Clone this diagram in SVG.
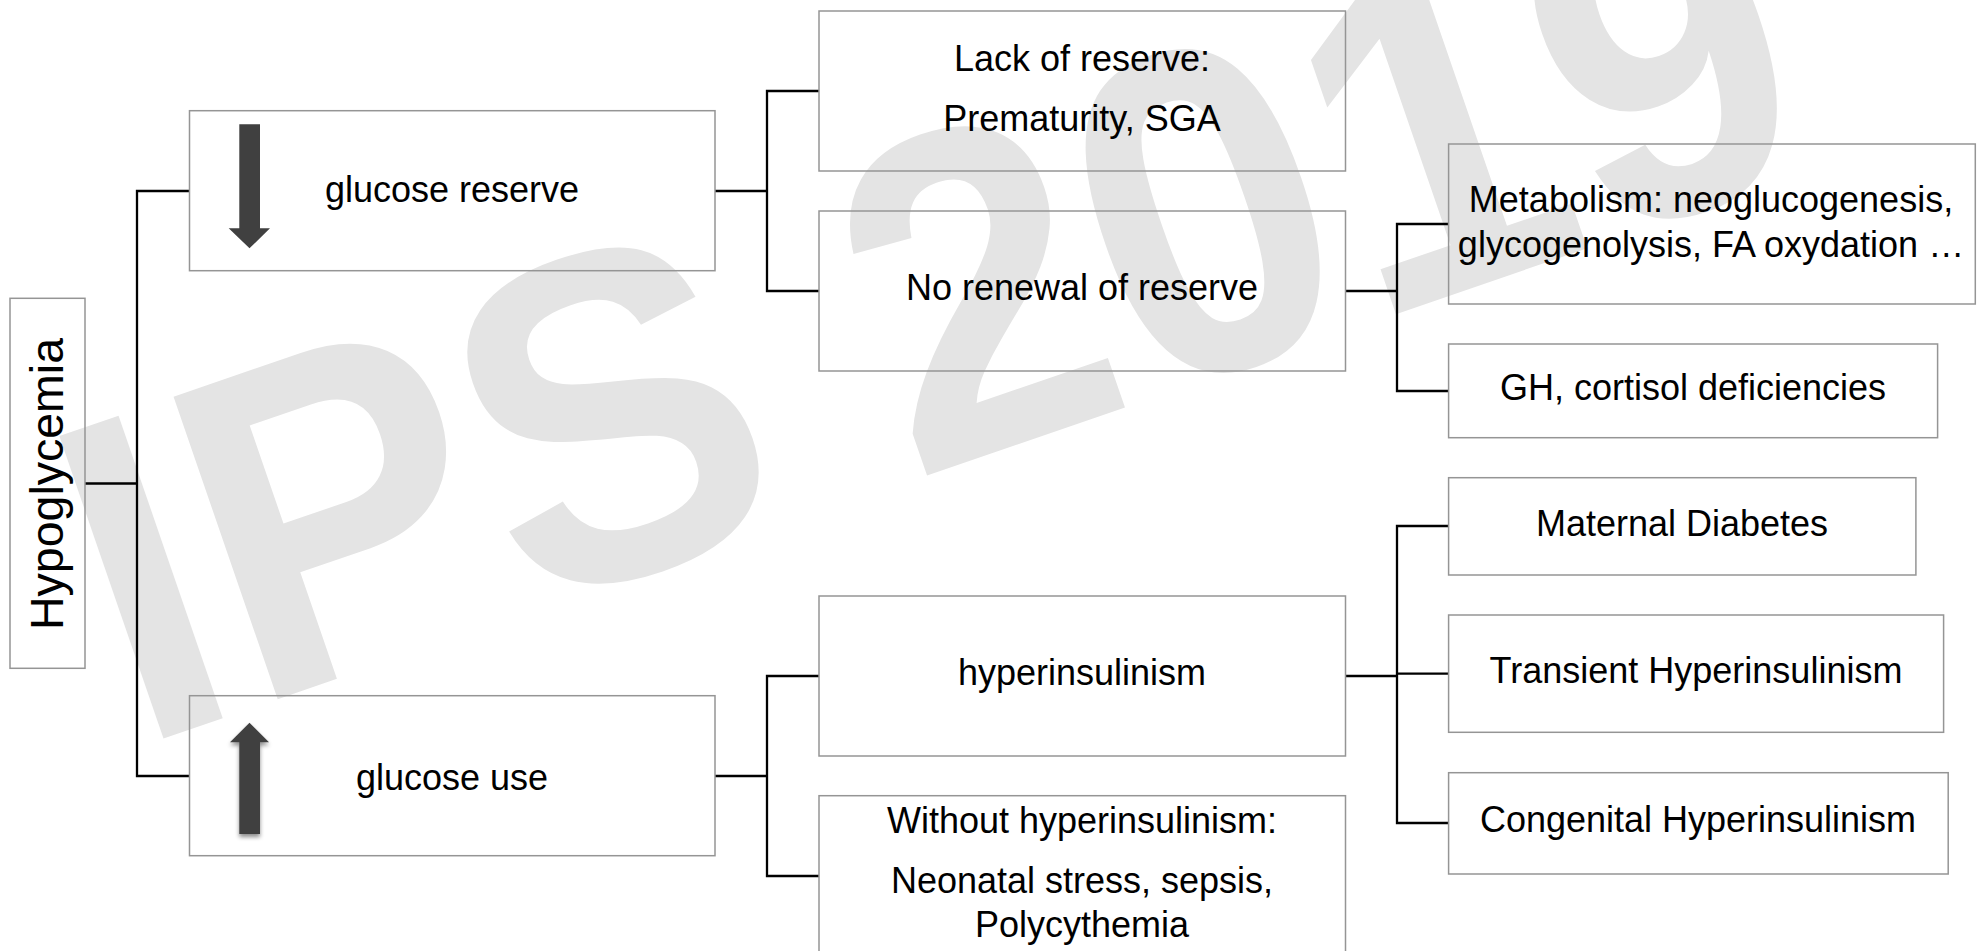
<svg xmlns="http://www.w3.org/2000/svg" width="1980" height="951" viewBox="0 0 1980 951">
<defs>
<style>
.bg{fill:#ffffff}
.wm{font-family:"Liberation Sans",Arial,sans-serif;font-weight:bold;font-size:465px;fill:#e4e4e4}
.box{fill:none;stroke:#959595;stroke-width:1.5}
.t{font-family:"Liberation Sans",Arial,sans-serif;font-size:36px;fill:#000000;text-anchor:middle}
.hypo{font-family:"Liberation Sans",Arial,sans-serif;font-size:46.5px;fill:#000000;text-anchor:middle}
.conn{fill:none;stroke:#000000;stroke-width:2.3}
.arrow{fill:#404040}
</style>
<filter id="shadow" x="-50%" y="-20%" width="200%" height="140%">
<feDropShadow dx="0" dy="3" stdDeviation="2" flood-color="#000000" flood-opacity="0.45"/>
</filter>
</defs>
<rect class="bg" x="0" y="0" width="1980" height="951"/>
<text class="wm" transform="translate(136,748) rotate(-19) scale(0.935,1)">IPS 2019</text>

<g id="connectors">
<path class="conn" d="M85,483.5 H137"/>
<path class="conn" d="M189.5,191 H137 V776 H189.5"/>
<path class="conn" d="M715,191 H767"/>
<path class="conn" d="M819,91 H767 V291 H819"/>
<path class="conn" d="M715,776 H767"/>
<path class="conn" d="M819,676 H767 V876 H819"/>
<path class="conn" d="M1345.5,291 H1397"/>
<path class="conn" d="M1448.6,224 H1397 V391 H1448.6"/>
<path class="conn" d="M1345.5,676 H1397"/>
<path class="conn" d="M1448.6,526 H1397 V823 H1448.6"/>
<path class="conn" d="M1397,673.7 H1448.6"/>
</g>

<g id="node-hypoglycemia">
<rect class="box" x="10" y="298.3" width="75" height="370"/>
<text class="hypo" transform="translate(63.3,484) rotate(-90)">Hypoglycemia</text>
</g>

<g id="node-glucose-reserve">
<rect class="box" x="189.5" y="110.7" width="525.5" height="160"/>
<polygon class="arrow" points="239.3,124.3 260,124.3 260,228.3 270,228.3 249.5,248.3 228.7,228.3 239.3,228.3"/>
<text class="t" x="452" y="201.5">glucose reserve</text>
</g>

<g id="node-glucose-use">
<rect class="box" x="189.5" y="695.7" width="525.5" height="160"/>
<polygon class="arrow" filter="url(#shadow)" points="249.5,722.7 269,742.3 260,742.3 260,834 239.3,834 239.3,742.3 230,742.3"/>
<text class="t" x="452" y="790">glucose use</text>
</g>

<g id="node-lack-of-reserve">
<rect class="box" x="819" y="11" width="526.5" height="160"/>
<text class="t" x="1082" y="70.7">Lack of reserve:</text>
<text class="t" x="1082" y="130.7">Prematurity, SGA</text>
</g>

<g id="node-no-renewal">
<rect class="box" x="819" y="211" width="526.5" height="160"/>
<text class="t" x="1082" y="300">No renewal of reserve</text>
</g>

<g id="node-hyperinsulinism">
<rect class="box" x="819" y="596" width="526.5" height="160"/>
<text class="t" x="1082" y="685">hyperinsulinism</text>
</g>

<g id="node-without-hyperinsulinism">
<rect class="box" x="819" y="795.7" width="526.5" height="160"/>
<text class="t" x="1082" y="832.7">Without hyperinsulinism:</text>
<text class="t" x="1082" y="893">Neonatal stress, sepsis,</text>
<text class="t" x="1082" y="936.7">Polycythemia</text>
</g>

<g id="node-metabolism">
<rect class="box" x="1448.6" y="144" width="526.7" height="160"/>
<text class="t" x="1711" y="212.3">Metabolism: neoglucogenesis,</text>
<text class="t" x="1711" y="257.3">glycogenolysis, FA oxydation …</text>
</g>

<g id="node-gh-cortisol">
<rect class="box" x="1448.6" y="344" width="489" height="93.7"/>
<text class="t" x="1693" y="400">GH, cortisol deficiencies</text>
</g>

<g id="node-maternal-diabetes">
<rect class="box" x="1448.6" y="477.7" width="467.3" height="97.3"/>
<text class="t" x="1682" y="536">Maternal Diabetes</text>
</g>

<g id="node-transient">
<rect class="box" x="1448.6" y="615" width="495" height="117.3"/>
<text class="t" x="1696" y="682.7">Transient Hyperinsulinism</text>
</g>

<g id="node-congenital">
<rect class="box" x="1448.6" y="772.7" width="499.6" height="101.3"/>
<text class="t" x="1698" y="831.7">Congenital Hyperinsulinism</text>
</g>
</svg>
